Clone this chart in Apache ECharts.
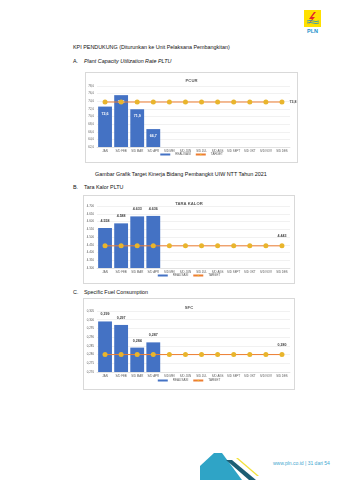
<!DOCTYPE html>
<html><head><meta charset="utf-8">
<script src="https://cdn.jsdelivr.net/npm/echarts@6/dist/echarts.min.js"></script>
<style>
html,body{margin:0;padding:0;width:339px;height:480px;background:#fff;overflow:hidden;font-family:"Liberation Sans",Arial,sans-serif;}
.t{position:absolute;white-space:nowrap;color:#111;font-size:5.4px;line-height:6px;}
.box{position:absolute;border:0.6px solid #d9d9d9;background:#fff;box-sizing:border-box;}
</style></head><body>
<svg style="position:absolute;left:0;top:0" width="339" height="480">
  <rect x="304" y="10" width="17" height="17" fill="#FFE000"/>
  <polygon points="314,12 309,19 312,19 308,25 315,17 312,17 316,12" fill="#E3262B"/>
  <path d="M307,21 q3,-1.2 6,0 t6,0" stroke="#1B8FCB" stroke-width="0.8" fill="none"/>
  <path d="M307,23 q3,-1.2 6,0 t6,0" stroke="#1B8FCB" stroke-width="0.8" fill="none"/>
  <polygon points="200,466 214,453 222,453 242,480 200,480" fill="#2FA4C6"/>
  <polygon points="226,460 232,460 256,480 249,480" fill="#1C5D73"/>
  <polygon points="236,458 238,458 259,476 257,476" fill="#F3E23A"/>
</svg>
<div class="t" style="left:303px;top:28px;width:19px;text-align:center;color:#1B8FCB;font-weight:bold;font-size:5.5px;">PLN</div>
<div class="t" style="left:73px;top:44px;">KPI PENDUKUNG (Diturunkan ke Unit Pelaksana Pembangkitan)</div>
<div class="t" style="left:73px;top:58px;">A.</div>
<div class="t" style="left:84px;top:58px;font-style:italic;">Plant Capacity Utilization Rate PLTU</div>
<div class="box" style="left:85px;top:72px;width:213px;height:91px;"></div>
<div id="c1" style="position:absolute;left:85px;top:72px;width:213px;height:91px;"></div>
<div class="t" style="left:95px;top:171px;">Gambar Grafik Target Kinerja Bidang Pembangkit UIW NTT Tahun 2021</div>
<div class="t" style="left:73px;top:184px;">B.</div>
<div class="t" style="left:84px;top:184px;">Tara Kalor PLTU</div>
<div class="box" style="left:83px;top:195px;width:212px;height:89px;"></div>
<div id="c2" style="position:absolute;left:83px;top:195px;width:212px;height:89px;"></div>
<div class="t" style="left:73px;top:289px;">C.</div>
<div class="t" style="left:84px;top:289px;">Specific Fuel Consumption</div>
<div class="box" style="left:83px;top:298px;width:212px;height:92px;"></div>
<div id="c3" style="position:absolute;left:83px;top:298px;width:212px;height:92px;"></div>
<div class="t" style="left:273px;top:460px;color:#3FA7CF;font-size:5px;">www.pln.co.id | 31 dari 54</div>
<script>
var categories = ["JAN","S/D FEB","S/D MAR","S/D APR","S/D MEI","S/D JUN","S/D JUL","S/D AGS","S/D SEPT","S/D OKT","S/D NOV","S/D DES"];
var pcurRealisasi = [72.6, 75.6, 71.9, 66.7];
var pcurTarget = [73.8,73.8,73.8,73.8,73.8,73.8,73.8,73.8,73.8,73.8,73.8,73.8];
var taraRealisasi = [4558, 4588, 4633, 4636];
var taraTarget = [4443,4443,4443,4443,4443,4443,4443,4443,4443,4443,4443,4443];
var sfcRealisasi = [0.299, 0.297, 0.284, 0.287];
var sfcTarget = [0.280,0.280,0.280,0.280,0.280,0.280,0.280,0.280,0.280,0.280,0.280,0.280];
var legendNames = ["REALISASI","TARGET"];

function fmtDec1(v){return v.toFixed(1).replace('.',',');}
function fmtThou(v){var s=Math.round(v).toString();return s.replace(/\B(?=(\d{3})+(?!\d))/g,'.');}
function fmtDec3(v){return v.toFixed(3).replace('.',',');}

function build(el, o){
  var ch = echarts.init(document.getElementById(el), null, {renderer:'canvas'});
  var last = o.target.length-1;
  var tdata = o.target.map(function(v,i){
    return i===last ? {value:v,label:{show:true,position:o.tpos,formatter:function(p){return o.fmt(p.value);},fontSize:3.6,fontWeight:'bold',color:'#404040'}} : v;
  });
  ch.setOption({
    animation:false,
    title:{text:o.title,left:'center',top:o.titleTop,textStyle:{fontSize:4.2,fontWeight:'bold',color:'#595959',fontFamily:'Liberation Sans'}},
    legend:{data:[{name:legendNames[0],icon:'rect'},{name:legendNames[1]}],bottom:o.legBottom,itemWidth:10,itemHeight:2,itemGap:4,textStyle:{fontSize:3,color:'#595959'}},
    grid:{left:o.gl,right:o.gr,top:o.gt,bottom:o.gb,containLabel:false},
    xAxis:{type:'category',data:categories,axisTick:{show:false},axisLine:{lineStyle:{color:'#d9d9d9',width:0.6}},
      axisLabel:{interval:0,fontSize:2.9,color:'#595959',margin:3}},
    yAxis:{type:'value',min:o.min,max:o.max,interval:o.interval,axisLine:{show:false},axisTick:{show:false},
      splitLine:{lineStyle:{color:'#e3e3e3',width:0.5}},axisLabel:{fontSize:2.9,color:'#595959',margin:3,formatter:o.fmt}},
    series:[
      {name:legendNames[0],type:'bar',data:o.real,barCategoryGap:'14%',itemStyle:{color:'#4472C4'},
        label:{show:true,position:o.bpos,formatter:function(p){return o.fmt(p.value);},fontSize:3.6,fontWeight:'bold',color:o.bcol}},
      {name:legendNames[1],type:'line',data:tdata,symbol:'circle',symbolSize:5,lineStyle:{color:'#ED7D31',width:1},
        itemStyle:{color:'#E9B52C'},z:5}
    ]
  });
}
build('c1',{title:'PCUR',titleTop:2,legBottom:2,gl:12,gr:8,gt:14,gb:16,min:62,max:78,interval:2,fmt:fmtDec1,real:pcurRealisasi,target:pcurTarget,tpos:'right',bpos:'insideTop',bcol:'#ffffff'});
build('c2',{title:'TARA KALOR',titleTop:2,legBottom:2,gl:14,gr:5,gt:11,gb:16,min:4300,max:4700,interval:50,fmt:fmtThou,real:taraRealisasi,target:taraTarget,tpos:'top',bpos:'top',bcol:'#404040'});
build('c3',{title:'SFC',titleTop:3,legBottom:3,gl:14,gr:5,gt:13,gb:18,min:0.270,max:0.305,interval:0.005,fmt:fmtDec3,real:sfcRealisasi,target:sfcTarget,tpos:'top',bpos:'top',bcol:'#404040'});
</script>
</body></html>
